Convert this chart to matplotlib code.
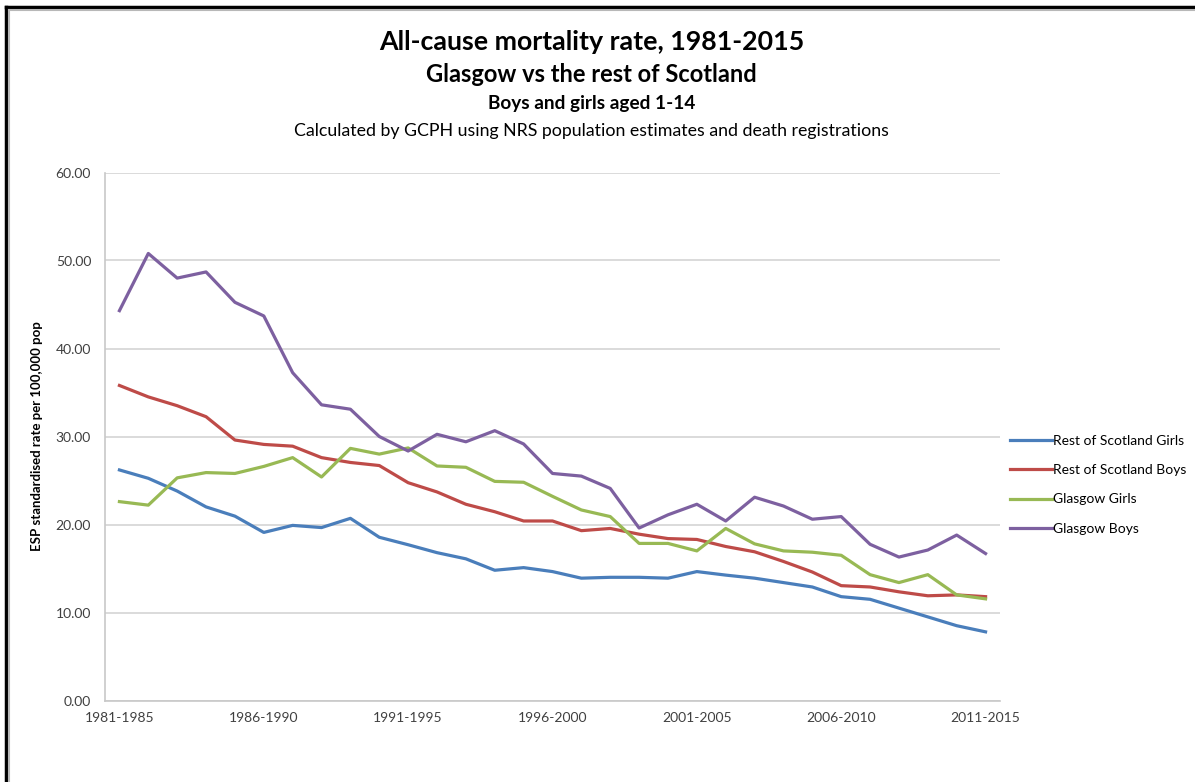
import matplotlib.pyplot as plt
from matplotlib.lines import Line2D

plt.rcParams['font.family'] = ['Lato', 'DejaVu Sans']

# rolling five-year periods 1981-1985 ... 2011-2015
periods = [f"{y}-{y + 4}" for y in range(1981, 2012)]
tick_labels = ["1981-1985", "1986-1990", "1991-1995", "1996-2000",
               "2001-2005", "2006-2010", "2011-2015"]

scot_girls = [26.2, 25.25, 23.8, 22.0, 20.95, 19.1, 19.9, 19.65, 20.7, 18.55,
              17.7, 16.8, 16.1, 14.8, 15.1, 14.65, 13.9, 14.0, 14.0, 13.9,
              14.65, 14.25, 13.9, 13.4, 12.9, 11.8, 11.5, 10.5, 9.5, 8.5, 7.8]
scot_boys = [35.8, 34.5, 33.5, 32.25, 29.6, 29.1, 28.9, 27.6, 27.05, 26.7,
             24.75, 23.7, 22.3, 21.45, 20.4, 20.4, 19.3, 19.55, 18.9, 18.4,
             18.3, 17.5, 16.9, 15.8, 14.6, 13.05, 12.9, 12.35, 11.9, 12.0, 11.8]
gla_girls = [22.6, 22.2, 25.3, 25.9, 25.8, 26.6, 27.6, 25.4, 28.65, 28.0,
             28.7, 26.65, 26.5, 24.9, 24.8, 23.2, 21.65, 20.9, 17.85, 17.85,
             17.0, 19.55, 17.8, 17.0, 16.85, 16.5, 14.3, 13.4, 14.3, 12.0, 11.55]
gla_boys = [44.3, 50.8, 48.0, 48.7, 45.25, 43.7, 37.25, 33.6, 33.1, 30.0,
            28.35, 30.25, 29.4, 30.66, 29.15, 25.8, 25.5, 24.1, 19.6, 21.1,
            22.3, 20.4, 23.1, 22.1, 20.6, 20.9, 17.75, 16.3, 17.1, 18.8, 16.7]

series = [
    ("Rest of Scotland Girls", scot_girls, "#4A7EBB"),
    ("Rest of Scotland Boys", scot_boys, "#BE4B48"),
    ("Glasgow Girls", gla_girls, "#98B954"),
    ("Glasgow Boys", gla_boys, "#7D60A0"),
]

fig = plt.figure(figsize=(11.95, 7.82), dpi=100)
ax = fig.add_axes([105 / 1195, 81.5 / 782, 895 / 1195, 528 / 782])

x = list(range(len(periods)))
for name, vals, col in series:
    ax.plot(x, vals, color=col, lw=2.3, label=name)

ax.set_xlim(-0.5, len(periods) - 0.5)
ax.set_ylim(0, 60)
ax.set_yticks(range(0, 61, 10))
ax.set_yticklabels([f"{v:.2f}" for v in range(0, 61, 10)], fontsize=10, color="#404040")
ax.set_xticks([periods.index(t) for t in tick_labels])
ax.set_xticklabels(tick_labels, fontsize=10, color="#404040")
ax.tick_params(length=0, pad=10)
ax.tick_params(axis='x', pad=8)
ax.grid(axis='y', color="#D4D4D4", lw=1.2)
ax.set_axisbelow(True)
for s in ['top', 'right']:
    ax.spines[s].set_visible(False)
for s in ['left', 'bottom']:
    ax.spines[s].set_color("#C8C8C8")
    ax.spines[s].set_linewidth(1.2)

ax.set_ylabel("ESP standardised rate per 100,000 pop", fontsize=9.5, fontweight='bold',
              labelpad=9)

ax.legend(loc='upper left', bbox_to_anchor=(0.9975, 0.527), frameon=False, fontsize=10,
          handlelength=3.0, handletextpad=0.1, labelspacing=1.25)

fig.text(0.495, 0.946, "All-cause mortality rate, 1981-2015", ha='center', va='center',
         fontsize=19.3, fontweight='bold')
fig.text(0.495, 0.905, "Glasgow vs the rest of Scotland", ha='center', va='center',
         fontsize=17, fontweight='bold')
fig.text(0.495, 0.868, "Boys and girls aged 1-14", ha='center', va='center',
         fontsize=13.7, fontweight='bold')
fig.text(0.495, 0.833, "Calculated by GCPH using NRS population estimates and death registrations",
         ha='center', va='center', fontsize=12.8)

# outer frame (top and left edges only, as in the screenshot)
fig.add_artist(Line2D([6 / 1195, 1], [1 - 7 / 782] * 2, color='black', lw=2.5,
                      transform=fig.transFigure))
fig.add_artist(Line2D([6 / 1195] * 2, [0, 1 - 7 / 782], color='black', lw=2.5,
                      transform=fig.transFigure))
fig.add_artist(Line2D([9 / 1195, 1], [1 - 10 / 782] * 2, color='#B8B8B8', lw=1.5,
                      transform=fig.transFigure))
fig.add_artist(Line2D([9 / 1195] * 2, [0, 1 - 10 / 782], color='#B8B8B8', lw=1.5,
                      transform=fig.transFigure))

fig.savefig("out.png", dpi=100)
